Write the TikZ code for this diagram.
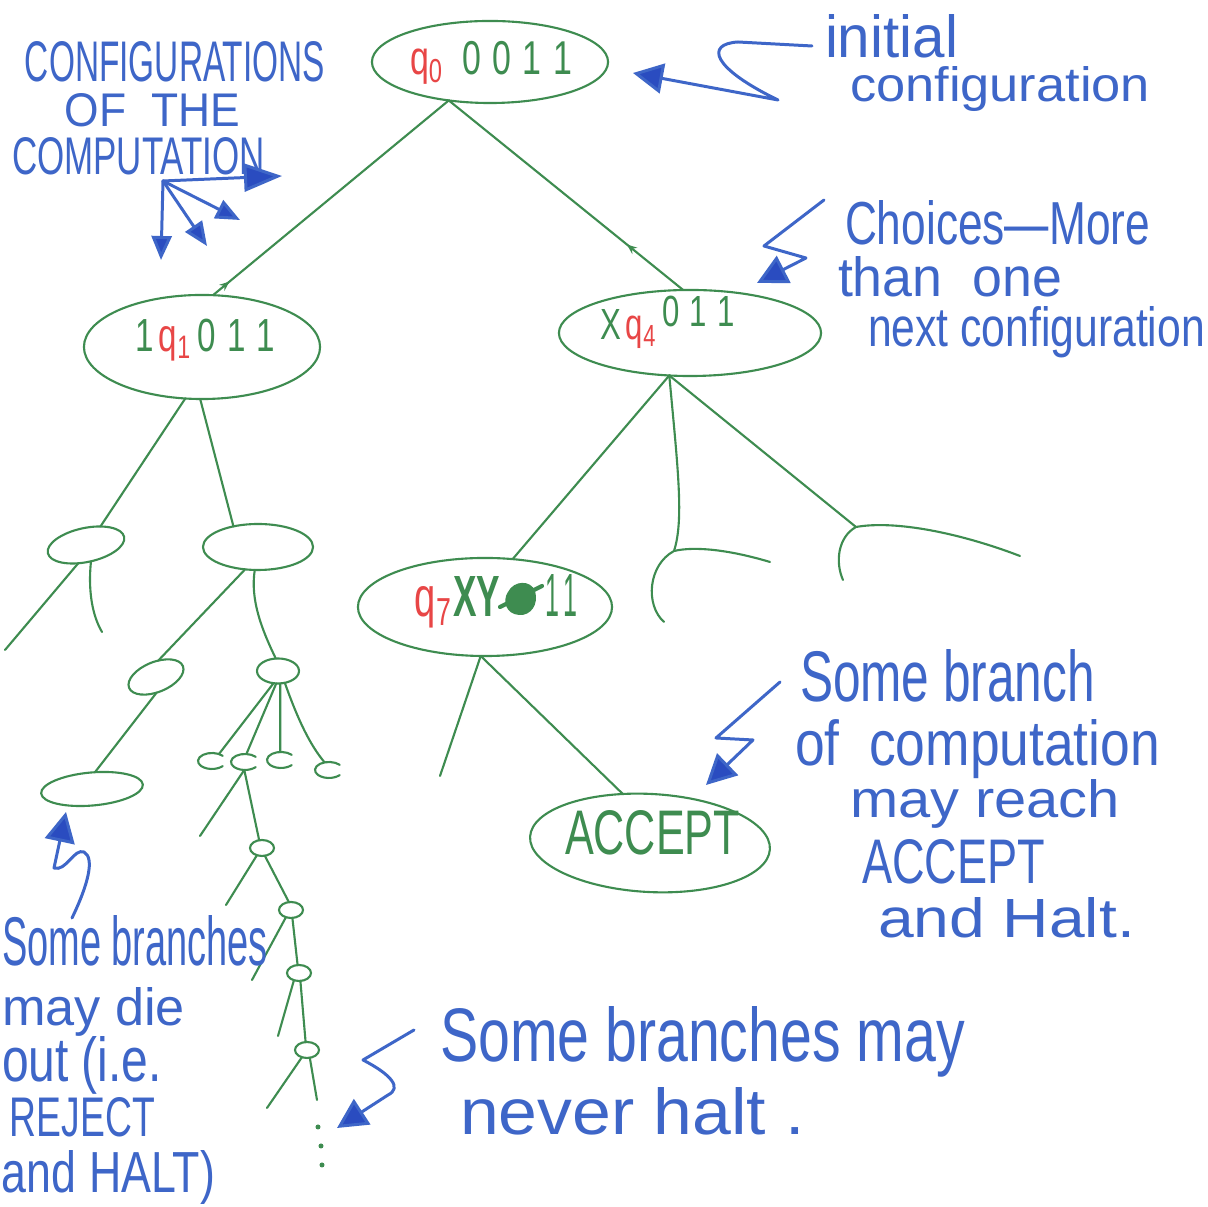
\documentclass[tikz,border=0pt]{standalone}
\usepackage{fontspec}
\setmainfont{Liberation Sans}
\usepackage{graphicx}
\usetikzlibrary{shapes.geometric,arrows.meta,decorations.markings}
\definecolor{tree}{RGB}{62,140,80}
\definecolor{pen}{RGB}{62,102,200}
\definecolor{penhead}{RGB}{42,76,192}
\definecolor{qred}{RGB}{232,70,70}
\newlength\pxu
\setlength\pxu{0.01cm}
% a line of pen lettering: fixed width, stretched upright
\newcommand\hw[2]{\resizebox{#1\pxu}{!}{\scalebox{1}[1.4]{#2}}}
% a line of lettering set into a given width and height
\newcommand\hwh[3]{\resizebox{#1\pxu}{#2\pxu}{#3}}
% a state symbol with its index
\newcommand\qs[1]{{\color{qred}q\textsubscript{#1}}}

\begin{document}
\begin{tikzpicture}[x=0.01cm,y=-0.01cm,
  cfg/.style={draw=tree,line width=0.6pt,ellipse,inner sep=0pt,outer sep=0pt},
  cmark/.style={ellipse,inner sep=0pt,outer sep=0pt,minimum width=0.28cm,minimum height=0.16cm},
  edge/.style={draw=tree,line width=0.6pt,line cap=round},
  lbl/.style={inner sep=0pt,outer sep=0pt,anchor=base west,text=tree},
  note/.style={inner sep=0pt,outer sep=0pt,anchor=base west,text=pen},
  pointer/.style={draw=pen,line width=0.85pt,line cap=round,line join=round,
    -{Triangle[length=0.3cm,width=0.3cm,fill=penhead]}},
  smallpointer/.style={pointer,-{Triangle[length=0.24cm,width=0.2cm,fill=penhead]}},
  backtip/.style={postaction={decorate},decoration={markings,
    mark=at position #1 with {\arrow{Stealth[length=0.1cm,width=0.08cm]}}}},
  dotmark/.style={circle,fill=tree,inner sep=0pt,minimum size=0.05cm}]

\fill[white] (0,0) rectangle (1208,1207);
\useasboundingbox (0,0) rectangle (1208,1207);

% ---------- configurations ----------
\node[cfg,minimum width=2.36cm,minimum height=0.82cm] (root) at (490,62) {};
\node[cfg,minimum width=2.36cm,minimum height=1.04cm] (lc) at (202,347) {};
\node[cfg,minimum width=2.62cm,minimum height=0.86cm] (rc) at (690,333) {};
\node[cfg,minimum width=2.54cm,minimum height=0.98cm] (q7) at (485,607) {};
\node[cfg,minimum width=2.40cm,minimum height=0.98cm,rotate=-3] (acc) at (650,843) {};

\node[cfg,minimum width=0.78cm,minimum height=0.34cm,rotate=12] (na) at (86,545) {};
\node[cfg,minimum width=1.10cm,minimum height=0.46cm] (nb) at (258,547) {};
\node[cfg,minimum width=0.58cm,minimum height=0.30cm,rotate=22] (nc) at (156,677) {};
\node[cfg,minimum width=1.02cm,minimum height=0.33cm,rotate=5] (nd) at (92,789) {};
\node[cfg,minimum width=0.42cm,minimum height=0.25cm] (ne) at (278,671) {};
\node[cfg,minimum width=0.24cm,minimum height=0.16cm] (o1) at (262,848) {};
\node[cfg,minimum width=0.24cm,minimum height=0.16cm] (o2) at (291,910) {};
\node[cfg,minimum width=0.24cm,minimum height=0.16cm] (o3) at (299,973) {};
\node[cfg,minimum width=0.24cm,minimum height=0.16cm] (o4) at (307,1050) {};

% open "c" configurations
\node[cmark] (k1) at (212,761) {};
\node[cmark] (k2) at (245,762) {};
\node[cmark] (k3) at (281,760) {};
\node[cmark] (k4) at (329,770) {};
\foreach \n in {k1,k2,k3,k4}
  \draw[edge] (\n.center) ++(-40:14 and 8) arc[start angle=-40,end angle=-320,x radius=14,y radius=8];

% half-drawn configurations on the right
\coordinate (pm) at (674,551);
\coordinate (pr) at (856,527);
\draw[edge] (770,562) .. controls (730,550) and (695,546) .. (pm)
  .. controls (648,565) and (645,605) .. (664,622);
\draw[edge] (1020,556) .. controls (960,533) and (895,520) .. (pr)
  .. controls (838,537) and (835,562) .. (843,580);

% ---------- labels inside configurations ----------
\node[lbl] (lroot) at (410,75) {\hw{162}{\qs{0}\ \ 0\,\,0\,\,1\,\,1}};
\node[lbl] (llc) at (135,352) {\hw{140}{1\,\qs{1}\,0\,\,1\,\,1}};
\node[lbl] (lrc) at (600,340) {\hw{135}{X\,\qs{4}\,\raisebox{0.3em}{0\,\,1\,\,1}}};
\node[lbl] (lq7a) at (415,617) {\hwh{38}{30}{\qs{7}}};
\node[lbl] (lq7b) at (453,617) {\hwh{47}{40}{\bfseries XY}};
\node[lbl] (lq7c) at (545,617) {\hwh{32}{42}{1\,1}};
% crossed-out symbol
\fill[tree] (508,592) .. controls (514,580) and (531,580) .. (535,591)
  .. controls (539,604) and (531,616) .. (519,615)
  .. controls (506,614) and (502,601) .. (508,592) -- cycle;
\draw[edge,line width=1.2pt] (500,607) -- (542,586);
\node[lbl] (lacc) at (565,855) {\hwh{175}{44}{ACCEPT}};

% ---------- tree edges ----------
\draw[edge,backtip=0.07] (lc.78) -- (root.223);
\draw[edge,backtip=0.24] (rc.99) -- (root.223);

\coordinate (naL) at (5,650);
\coordinate (naR) at (102,632);
\draw[edge] (lc.252) -- (na.40);
\draw[edge] (lc.268) -- (nb.140);
\draw[edge] (na.235) -- (naL);
\draw[edge] (na.275) .. controls (88,590) and (92,615) .. (naR);
\draw[edge] (nb.240) -- (nc.60);
\draw[edge] (nb.262) .. controls (250,600) and (262,630) .. (ne.100);
\draw[edge] (nc.250) -- (nd.75);
\draw[edge] (ne.250) -- (k1.45);
\draw[edge] (ne.262) -- (k2.80);
\draw[edge] (ne.280) -- (k3.95);
\draw[edge] (ne.300) .. controls (298,720) and (310,745) .. (k4.120);

\coordinate (k2L) at (200,836);
\coordinate (o1L) at (226,905);
\coordinate (o2L) at (252,980);
\coordinate (o3L) at (278,1036);
\coordinate (o4L) at (267,1108);
\coordinate (o4R) at (317,1100);
\draw[edge] (k2.265) -- (k2L);
\draw[edge] (k2.265) -- (o1.110);
\draw[edge] (o1.235) -- (o1L);
\draw[edge] (o1.290) -- (o2.105);
\draw[edge] (o2.235) -- (o2L);
\draw[edge] (o2.280) -- (o3.100);
\draw[edge] (o3.235) -- (o3L);
\draw[edge] (o3.280) -- (o4.100);
\draw[edge] (o4.235) -- (o4L);
\draw[edge] (o4.290) -- (o4R);
\node[dotmark] (dot1) at (318,1127) {};
\node[dotmark] (dot2) at (321,1146) {};
\node[dotmark] (dot3) at (322,1165) {};

\draw[edge] (rc.244) -- (q7.60);
\draw[edge] (rc.244) .. controls (678,470) and (684,520) .. (pm);
\draw[edge] (rc.244) -- (pr);

\coordinate (q7L) at (440,776);
\draw[edge] (q7.265) -- (q7L);
\draw[edge] (q7.265) -- (acc.122);

% ---------- notes ----------
\node[note] (n1) at (25,82) {\hwh{300}{40}{CONFIGURATIONS}};
\node[note] (n2) at (65,127) {\hwh{175}{33}{OF\ \ THE}};
\node[note] (n3) at (12,175) {\hwh{253}{37}{COMPUTATION}};
\coordinate (fan) at (163,181);
\coordinate (fanA) at (282,176);
\coordinate (fanB) at (240,220);
\coordinate (fanC) at (207,246);
\coordinate (fanD) at (161,260);
\draw[pointer,-{Triangle[length=0.38cm,width=0.28cm,fill=penhead]}] (fan) -- (fanA);
\draw[smallpointer] (fan) -- (fanB);
\draw[smallpointer] (fan) -- (fanC);
\draw[smallpointer] (fan) -- (fanD);

\node[note] (n4) at (825,58) {\hwh{133}{43}{initial}};
\node[note] (n5) at (850,102) {\hwh{300}{35}{configuration}};
\coordinate (iniFrom) at (812,46);
\coordinate (iniTip) at (633,73);
\draw[pointer] (iniFrom) -- (738,42) .. controls (705,44) and (712,68) .. (778,100) -- (iniTip);

\node[note] (n6) at (845,245) {\hwh{305}{44}{Choices—More}};
\node[note] (n7) at (838,297) {\hwh{224}{40}{than\ \ one}};
\node[note] (n8) at (868,347) {\hwh{337}{40}{next configuration}};
\coordinate (choFrom) at (824,200);
\coordinate (choTip) at (757,283);
\draw[pointer] (choFrom) -- (764,246) -- (806,258) -- (choTip);

\node[note] (n9) at (800,702) {\hwh{295}{52}{Some branch}};
\node[note] (n10) at (795,766) {\hwh{365}{46}{of\ \ computation}};
\node[note] (n11) at (850,818) {\hwh{270}{38}{may reach}};
\node[note] (n12) at (862,884) {\hwh{183}{44}{ACCEPT}};
\node[note] (n13) at (878,938) {\hwh{257}{40}{and Halt.}};
\coordinate (sbFrom) at (780,682);
\coordinate (sbTip) at (706,785);
\draw[pointer] (sbFrom) -- (716,738) -- (753,740) -- (sbTip);

\node[note] (n14) at (2,966) {\hwh{266}{50}{Some branches}};
\node[note] (n15) at (2,1026) {\hwh{183}{38}{may die}};
\node[note] (n16) at (2,1082) {\hwh{160}{45}{out (i.e.}};
\node[note] (n17) at (10,1137) {\hwh{145}{39}{REJECT}};
\node[note] (n18) at (2,1193) {\hwh{213}{42}{and HALT)}};
\coordinate (dieFrom) at (72,918);
\coordinate (dieTip) at (66,812);
\draw[pointer] (dieFrom) .. controls (88,885) and (95,858) .. (84,852)
  .. controls (74,848) and (66,872) .. (54,868) -- (dieTip);

\node[note] (n19) at (440,1062) {\hwh{525}{55}{Some branches may}};
\node[note] (n20) at (460,1135) {\hwh{345}{47}{never halt .}};
\coordinate (nhFrom) at (414,1030);
\coordinate (nhTip) at (337,1128);
\draw[pointer] (nhFrom) -- (363,1060) .. controls (392,1075) and (402,1088) .. (388,1095) -- (nhTip);

\end{tikzpicture}
\end{document}
